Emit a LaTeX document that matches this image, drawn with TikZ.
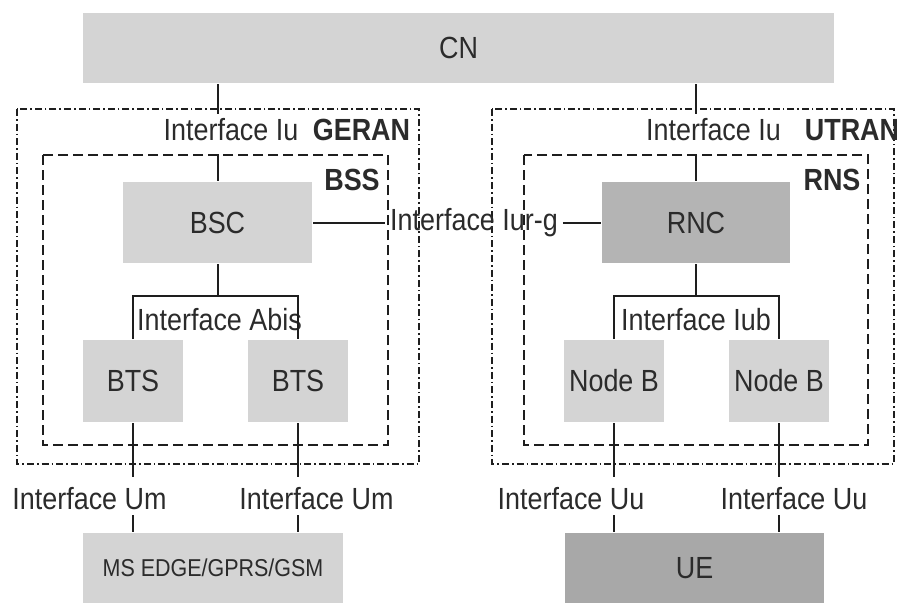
\documentclass[tikz,border=0pt]{standalone}
\usepackage{fontspec}
\setmainfont{Liberation Sans}[FakeStretch=0.88]
\usetikzlibrary{positioning}
\definecolor{lightbox}{HTML}{D4D4D4}
\definecolor{midbox}{HTML}{B4B4B4}
\definecolor{darkbox}{HTML}{A8A8A8}
\definecolor{ink}{HTML}{2B2B2B}
\definecolor{wire}{HTML}{1E1E1E}

\begin{document}
\begin{tikzpicture}[x=0.5pt, y=-0.5pt, color=wire, line width=1pt, every node/.style={font=\fontsize{15.3}{18}\selectfont, text=ink}, box/.style={fill=lightbox,inner sep=0pt,minimum width=50pt,minimum height=41pt}, iface/.style={inner sep=2pt}, zonename/.style={inner sep=0pt,font=\fontsize{15.3}{18}\selectfont\bfseries}, outerzone/.style={dash pattern=on 3.5pt off 1.5pt on 0.8pt off 1.5pt}, innerzone/.style={dash pattern=on 5pt off 2.5pt}]
\useasboundingbox (0,0) rectangle (897,607);
\node[box,minimum width=375.5pt,minimum height=35pt] (cn) at (458.5,48) {CN};
\node[box,minimum width=94.5pt,minimum height=40.5pt] (bsc) at (217.5,222.5) {BSC};
\node[box,fill=midbox,minimum width=94pt,minimum height=40.5pt] (rnc) at (696,222.5) {RNC};
\node[box] (bts1) at (133,381) {BTS};
\node[box] (bts2) at (298,381) {BTS};
\node[box] (nb1) at (614,381) {Node B};
\node[box] (nb2) at (779,381) {Node B};
\node[box,minimum width=130pt,minimum height=35pt,font=\fontsize{12.2}{14}\selectfont] (ms) at (213,568) {MS EDGE/GPRS/GSM};
\node[box,fill=darkbox,minimum width=129.5pt,minimum height=35pt] (ue) at (694.5,568) {UE};
% zones
\draw[outerzone] (17,109) rectangle (419,464);
\draw[innerzone] (43,155) rectangle (388,445);
\draw[outerzone] (492,109) rectangle (894,464);
\draw[innerzone] (524,155) rectangle (868,445);
\node[zonename] (geran) at (361.5,130) {GERAN};
\node[zonename] (utran) at (852,130) {UTRAN};
\node[zonename] (bss) at (352,180) {BSS};
\node[zonename] (rns) at (832,180) {RNS};
% interface labels
\node[iface] (iuG) at (231,130) {Interface Iu};
\node[iface] (iuU) at (713.5,130) {Interface Iu};
\node[iface] (iurg) at (474,222.5) {Interface Iur-g};
\node[iface] (abis) at (219.5,320) {Interface Abis};
\node[iface] (iub) at (696,320) {Interface Iub};
\node[iface] (um1) at (89.5,499) {Interface Um};
\node[iface] (um2) at (316.5,499) {Interface Um};
\node[iface] (uu1) at (571,499) {Interface Uu};
\node[iface] (uu2) at (794,499) {Interface Uu};
% links
\foreach \c/\l in {bsc/iuG,rnc/iuU} {
  \draw (\c.north |- cn.south) -- (\c.north |- \l.north);
  \draw[shorten <=4pt] (\c.north |- \l.south) -- (\c.north);
}
\draw (bsc.east) -- (iurg.west);
\draw (iurg.east) -- (rnc.west);
\draw (bsc.south) -- ++(0,32) coordinate (abisjoin);
\draw (bts1.north) |- (abisjoin) -| (bts2.north);
\draw (rnc.south) -- ++(0,32) coordinate (iubjoin);
\draw (nb1.north) |- (iubjoin) -| (nb2.north);
\foreach \b/\l/\t in {bts1/um1/ms,bts2/um2/ms,nb1/uu1/ue,nb2/uu2/ue} {
  \draw[shorten >=3pt] (\b.south) -- (\b.south |- \l.north);
  \draw (\b.south |- \l.south) -- (\b.south |- \t.north);
}
\end{tikzpicture}
\end{document}
